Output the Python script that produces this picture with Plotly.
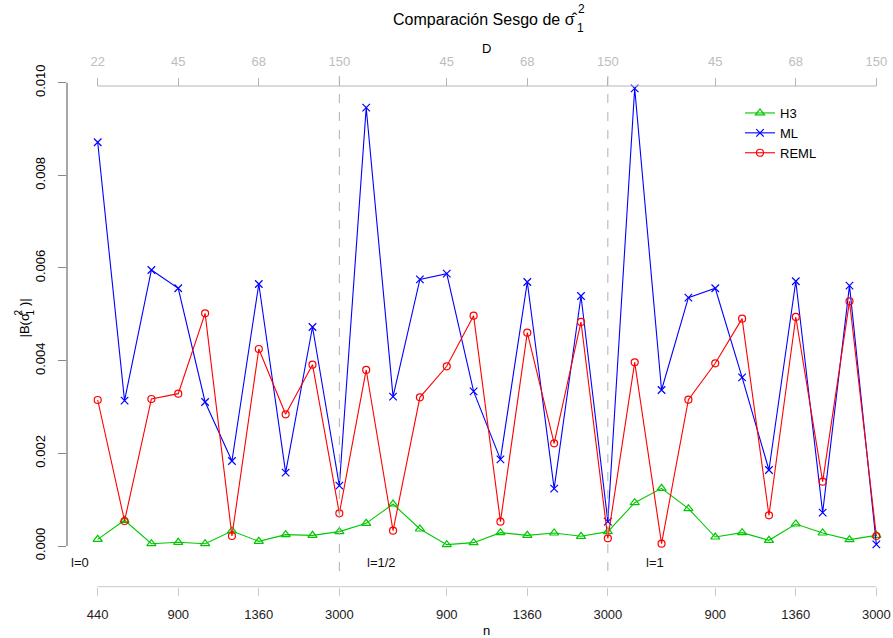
import plotly.graph_objects as go

# Simulation settings: 30 scenarios in three blocks (l = 0, 1/2, 1)
idx = list(range(1, 31))
tick_pos = [1, 4, 7, 10, 14, 17, 20, 24, 27, 30]
n_labels = ["440", "900", "1360", "3000", "900", "1360", "3000", "900", "1360", "3000"]
D_labels = ["22", "45", "68", "150", "45", "68", "150", "45", "68", "150"]
block_breaks = [10, 20]
block_names = ["l=0", "l=1/2", "l=1"]
block_label_x = [0.34, 11.58, 21.75]

# Absolute bias of the variance estimator
H3 = [0.000144, 0.000555, 0.000050, 0.000080, 0.000050, 0.000324, 0.000101, 0.000245,
      0.000230, 0.000310, 0.000489, 0.000906, 0.000367, 0.000029, 0.000072, 0.000288,
      0.000230, 0.000281, 0.000209, 0.000310, 0.000935, 0.001245, 0.000806, 0.000194,
      0.000288, 0.000122, 0.000475, 0.000281, 0.000137, 0.000230]
ML = [0.008713, 0.003136, 0.005957, 0.005562, 0.003108, 0.001835, 0.005655, 0.001583,
      0.004727, 0.001302, 0.009460, 0.003223, 0.005755, 0.005878, 0.003338, 0.001870,
      0.005698, 0.001237, 0.005396, 0.000525, 0.009878, 0.003367, 0.005360, 0.005562,
      0.003641, 0.001640, 0.005713, 0.000719, 0.005619, 0.000036]
REML = [0.003151, 0.000540, 0.003173, 0.003288, 0.005022, 0.000216, 0.004252, 0.002842,
        0.003914, 0.000705, 0.003799, 0.000331, 0.003209, 0.003878, 0.004971, 0.000525,
        0.004604, 0.002216, 0.004835, 0.000165, 0.003964, 0.000050, 0.003158, 0.003943,
        0.004907, 0.000662, 0.004943, 0.001388, 0.005281, 0.000216]
y_ticks = [0.000, 0.002, 0.004, 0.006, 0.008, 0.010]

FONT = "Liberation Sans, Arial, Helvetica, sans-serif"
W, H = 893, 638
ML_, MR_, MT_, MB_ = 67, 0, 60, 38
PW, PH = W - ML_ - MR_, H - MT_ - MB_


def fx(px):
    return (px - ML_) / PW


def fy(py):
    return (H - MB_ - py) / PH


fig = go.Figure()
series = [("H3", H3, "#00C800", "triangle-up-open", 8),
          ("ML", ML, "#0000FF", "x-thin-open", 7.5),
          ("REML", REML, "#FF0000", "circle-open", 7)]
for name, vals, col, sym, sz in series:
    fig.add_trace(go.Scatter(
        x=idx, y=vals, name=name, mode="lines+markers",
        line=dict(color=col, width=1.1),
        marker=dict(symbol=sym, size=sz, color=col, line=dict(color=col, width=1.2)),
    ))
# carrier for the top axis
fig.add_trace(go.Scatter(x=idx, y=[None] * len(idx), xaxis="x2", showlegend=False,
                         hoverinfo="skip", mode="markers"))

x_rng = [-0.1434, 30.62]
y_rng = [-0.0011655, 0.010489]

fig.update_layout(
    width=W, height=H,
    margin=dict(l=ML_, r=MR_, t=MT_, b=MB_),
    paper_bgcolor="white", plot_bgcolor="white",
    font=dict(family=FONT, size=13, color="black"),
    xaxis=dict(range=x_rng, tickvals=tick_pos, ticktext=n_labels, showgrid=False,
               zeroline=False, showline=False, ticks="outside", ticklen=8,
               tickcolor="#c8c8c8", tickfont=dict(size=13, color="#222222"),
               anchor="free", position=fy(586.7), ticklabelstandoff=8),
    xaxis2=dict(range=x_rng, tickvals=tick_pos, ticktext=D_labels, showgrid=False,
                zeroline=False, showline=False, ticks="outside", ticklen=8,
                tickcolor="#b4b4b4", tickfont=dict(size=13, color="#bdbdbd"),
                overlaying="x", side="top", anchor="free", position=fy(86),
                ticklabelstandoff=7),
    yaxis=dict(range=y_rng, tickvals=y_ticks, tickformat=".3f", showgrid=False,
               zeroline=False, showline=False, ticks="outside", ticklen=8,
               tickcolor="#888888", tickangle=-90, tickfont=dict(size=13, color="black"),
               ticklabelstandoff=8),
    legend=dict(x=fx(740), y=fy(98), xanchor="left", yanchor="top",
                bgcolor="rgba(0,0,0,0)", font=dict(size=13), itemwidth=30),
    showlegend=True,
)

shapes = []
# axis lines spanning only the tick range
shapes.append(dict(type="line", xref="x", yref="paper", x0=tick_pos[0], x1=tick_pos[-1],
                   y0=fy(586.7), y1=fy(586.7), line=dict(color="#c8c8c8", width=1)))
shapes.append(dict(type="line", xref="x", yref="paper", x0=tick_pos[0], x1=tick_pos[-1],
                   y0=fy(86), y1=fy(86), line=dict(color="#b4b4b4", width=1)))
shapes.append(dict(type="line", xref="paper", yref="y", x0=0, x1=0,
                   y0=y_ticks[0], y1=y_ticks[-1], line=dict(color="#888888", width=1.5)))
# block separators
for b in block_breaks:
    shapes.append(dict(type="line", xref="x", yref="paper", x0=b, x1=b,
                       y0=fy(571), y1=fy(69), line=dict(color="#b0b0b0", width=1, dash="dash")))
fig.update_layout(shapes=shapes)


def text_at(px, py, txt, size=13, xa="center", ya="middle", angle=0, color="black"):
    return dict(x=fx(px), y=fy(py), xref="paper", yref="paper", text=txt,
                showarrow=False, xanchor=xa, yanchor=ya, textangle=angle,
                font=dict(size=size, color=color))


SIGMA_HAT = "\u03c3\u0302"

ann = []
for name, xb in zip(block_names, block_label_x):
    ann.append(dict(x=xb, y=-0.00036, xref="x", yref="y", text=name, showarrow=False,
                    xanchor="center", yanchor="middle", font=dict(size=13, color="#111111")))
ann.append(text_at(486.7, 48, "D"))
ann.append(text_at(486.7, 630, "n"))
# title with stacked sub/superscript
ann.append(text_at(390.5, 20, "Comparación Sesgo de " + SIGMA_HAT, size=16, xa="left"))
ann.append(text_at(581, 9.5, "2", size=12))
ann.append(text_at(580, 28, "1", size=12))
# rotated y-axis label |B(σ̂₁²)|
ann.append(text_at(24, 340, "|B(" + SIGMA_HAT, size=13, ya="bottom", angle=-90))
ann.append(text_at(18, 312.5, "2", size=10, angle=-90))
ann.append(text_at(30, 312.5, "1", size=10, angle=-90))
ann.append(text_at(24, 308, ")|", size=13, ya="bottom", angle=-90))
fig.update_layout(annotations=ann)

fig.write_html("out.html")
